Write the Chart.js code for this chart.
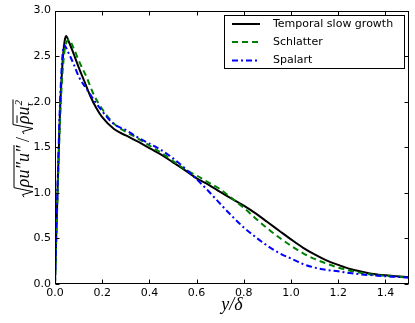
<!DOCTYPE html>
<html>
<head>
<meta charset="utf-8">
<script src="https://cdn.jsdelivr.net/npm/chart.js@4"></script>
<style>
  html, body { margin: 0; padding: 0; background: #fff; }
  canvas { display: block; }
</style>
</head>
<body>
<canvas id="chart" width="415" height="323"></canvas>
<script>
// Temporal slow growth (black solid)
const slowX = [0, 0.005, 0.01, 0.02, 0.03, 0.04, 0.047, 0.06, 0.08, 0.1, 0.125, 0.15, 0.175, 0.2, 0.25, 0.3, 0.35, 0.4, 0.45, 0.5, 0.55, 0.6, 0.65, 0.7, 0.75, 0.8, 0.85, 0.9, 0.95, 1.0, 1.05, 1.1, 1.15, 1.2, 1.25, 1.3, 1.35, 1.4, 1.45, 1.5]
const slowY = [0, 0.5, 0.95, 1.8, 2.35, 2.65, 2.72, 2.65, 2.52, 2.38, 2.22, 2.06, 1.93, 1.83, 1.7, 1.63, 1.565, 1.49, 1.42, 1.335, 1.25, 1.16, 1.09, 1.01, 0.935, 0.86, 0.775, 0.68, 0.585, 0.49, 0.4, 0.325, 0.26, 0.21, 0.165, 0.135, 0.11, 0.095, 0.085, 0.075]
// Schlatter (green dashed)
const schlatterX = [0, 0.005, 0.01, 0.02, 0.03, 0.04, 0.05, 0.059, 0.08, 0.106, 0.134, 0.162, 0.2, 0.25, 0.3, 0.35, 0.4, 0.45, 0.5, 0.55, 0.6, 0.65, 0.7, 0.75, 0.8, 0.85, 0.9, 0.95, 1.0, 1.05, 1.1, 1.15, 1.2, 1.25, 1.3, 1.35, 1.4, 1.45, 1.5]
const schlatterY = [0, 0.45, 0.9, 1.7, 2.25, 2.55, 2.66, 2.68, 2.58, 2.42, 2.27, 2.09, 1.92, 1.76, 1.67, 1.6, 1.52, 1.44, 1.35, 1.26, 1.19, 1.115, 1.04, 0.94, 0.835, 0.72, 0.61, 0.51, 0.42, 0.34, 0.275, 0.225, 0.18, 0.145, 0.12, 0.1, 0.09, 0.08, 0.07]
// Spalart (blue dash-dot)
const spalartX = [0, 0.005, 0.01, 0.02, 0.03, 0.038, 0.06, 0.078, 0.1, 0.134, 0.19, 0.247, 0.3, 0.35, 0.4, 0.45, 0.5, 0.55, 0.6, 0.65, 0.7, 0.75, 0.8, 0.85, 0.9, 0.95, 1.0, 1.05, 1.1, 1.15, 1.2, 1.25, 1.3, 1.35, 1.4, 1.45, 1.5]
const spalartY = [0, 0.55, 1.0, 1.9, 2.45, 2.62, 2.52, 2.42, 2.28, 2.14, 1.93, 1.76, 1.69, 1.61, 1.54, 1.47, 1.38, 1.27, 1.15, 1.02, 0.88, 0.745, 0.62, 0.515, 0.42, 0.34, 0.28, 0.22, 0.18, 0.155, 0.14, 0.12, 0.105, 0.095, 0.085, 0.078, 0.07]

const xTicks = [0, 0.2, 0.4, 0.6, 0.8, 1.0, 1.2, 1.4]
const yTicks = [0, 0.5, 1.0, 1.5, 2.0, 2.5, 3.0]
const seriesNames = ['Temporal slow growth', 'Schlatter', 'Spalart']

function toPoints(xs, ys) {
    return xs.map((x, i) => ({x: x, y: ys[i]}))
}

const tickFont = {family: '"DejaVu Sans"', size: 11}

// frame with inward ticks on all four sides, like matplotlib
const framePlugin = {
    id: 'frame',
    afterDatasetsDraw(chart) {
        const {ctx, chartArea: a, scales} = chart
        ctx.save()
        ctx.strokeStyle = '#000'
        ctx.lineWidth = 1
        const l = Math.round(a.left) + 0.5, r = Math.round(a.right) - 0.5
        const t = Math.round(a.top) + 0.5, b = Math.round(a.bottom) - 0.5
        ctx.strokeRect(l, t, r - l, b - t)
        ctx.beginPath()
        xTicks.forEach(v => {
            const px = Math.round(scales.x.getPixelForValue(v)) + 0.5
            ctx.moveTo(px, b); ctx.lineTo(px, b - 4)
            ctx.moveTo(px, t); ctx.lineTo(px, t + 4)
        })
        yTicks.forEach(v => {
            const py = Math.round(scales.y.getPixelForValue(v)) + 0.5
            ctx.moveTo(l, py); ctx.lineTo(l + 4, py)
            ctx.moveTo(r, py); ctx.lineTo(r - 4, py)
        })
        ctx.stroke()
        ctx.restore()
    },
    afterDraw(chart) {
        const ctx = chart.ctx
        drawLegend(chart, ctx)
        drawXTitle(chart, ctx)
        drawYTitle(chart, ctx)
    }
}

function drawLegend(chart, ctx) {
    ctx.save()
    const bx = 224.5, by = 15.5, bw = 180, bh = 53
    ctx.fillStyle = '#fff'
    ctx.fillRect(bx, by, bw, bh)
    ctx.strokeStyle = '#000'
    ctx.lineWidth = 1
    ctx.strokeRect(bx, by, bw, bh)
    const rows = [24, 42, 60.5]
    chart.data.datasets.forEach((ds, i) => {
        ctx.beginPath()
        ctx.strokeStyle = ds.borderColor
        ctx.lineWidth = ds.borderWidth
        ctx.setLineDash(ds.borderDash || [])
        ctx.moveTo(232, rows[i]); ctx.lineTo(260, rows[i])
        ctx.stroke()
        ctx.setLineDash([])
        ctx.fillStyle = '#000'
        ctx.font = '11px "DejaVu Sans"'
        ctx.textBaseline = 'middle'
        ctx.fillText(ds.label, 273, rows[i])
    })
    ctx.restore()
}

function drawXTitle(chart, ctx) {
    ctx.save()
    ctx.fillStyle = '#000'
    ctx.font = 'italic 18px "Liberation Serif"'
    ctx.textAlign = 'center'
    ctx.textBaseline = 'alphabetic'
    ctx.fillText('y/δ', 232, 310)
    ctx.restore()
}

function radical(ctx, x, w, top) {
    ctx.beginPath()
    ctx.moveTo(x, -5)
    ctx.lineTo(x + 2.5, -6.5)
    ctx.lineTo(x + 5.5, 4)
    ctx.lineTo(x + 9.5, top)
    ctx.lineTo(x + 10.5 + w, top)
    ctx.stroke()
}

function drawYTitle(chart, ctx) {
    ctx.save()
    ctx.translate(29, (chart.chartArea.top + chart.chartArea.bottom) / 2 + 1)
    ctx.rotate(-Math.PI / 2)
    ctx.fillStyle = '#000'
    ctx.strokeStyle = '#000'
    ctx.lineWidth = 1
    ctx.textBaseline = 'alphabetic'
    const big = 'italic 18px "Liberation Serif"'
    const small = 'italic 11px "Liberation Serif"'
    ctx.font = big
    const num = 'ρu″u″'
    const wNum = ctx.measureText(num).width
    const wRho = ctx.measureText('ρ').width
    const wRhoU = ctx.measureText('ρu').width
    ctx.font = '18px "Liberation Serif"'
    const wSlash = ctx.measureText('/').width
    ctx.font = small
    const wSup = ctx.measureText('2').width + 1
    const wDen = wRhoU + wSup
    const total = 10.5 + wNum + 3 + wSlash + 3 + 10.5 + wDen
    let x = -total / 2

    radical(ctx, x, wNum, -15)
    ctx.font = big
    ctx.fillText(num, x + 10, 0)
    x += 10.5 + wNum + 3
    ctx.font = '18px "Liberation Serif"'
    ctx.fillText('/', x, 0)
    x += wSlash + 3

    radical(ctx, x, wDen, -16)
    ctx.font = big
    ctx.fillText('ρu', x + 10, 0)
    // bar over rho
    ctx.beginPath()
    ctx.moveTo(x + 11, -12); ctx.lineTo(x + 10 + wRho, -12)
    ctx.stroke()
    ctx.font = small
    ctx.fillText('2', x + 10 + wRhoU + 1, -7)
    ctx.fillText('τ', x + 10 + wRhoU, 4)
    ctx.restore()
}

new Chart(document.querySelector('#chart'), {
    type: 'line',
    data: {
        datasets: [{
            label: seriesNames[0],
            data: toPoints(slowX, slowY),
            borderColor: '#000000',
            borderWidth: 2,
            order: 2
        }, {
            label: seriesNames[1],
            data: toPoints(schlatterX, schlatterY),
            borderColor: '#008000',
            borderWidth: 2,
            borderDash: [6, 4],
            order: 1
        }, {
            label: seriesNames[2],
            data: toPoints(spalartX, spalartY),
            borderColor: '#0000ff',
            borderWidth: 2,
            borderDash: [6, 3, 2, 3],
            order: 0
        }]
    },
    options: {
        responsive: false,
        animation: false,
        elements: {
            point: {radius: 0},
            line: {cubicInterpolationMode: 'monotone', fill: false}
        },
        layout: {padding: {top: 10, right: 6, left: 0, bottom: 0}},
        plugins: {
            legend: {display: false},
            tooltip: {enabled: false}
        },
        scales: {
            x: {
                type: 'linear',
                min: 0,
                max: 1.5,
                afterBuildTicks: s => { s.ticks = xTicks.map(v => ({value: v})) },
                afterFit: s => { s.height = 39 },
                grid: {display: false, drawTicks: false},
                border: {display: false},
                ticks: {
                    font: tickFont,
                    color: '#000',
                    padding: 3,
                    maxRotation: 0,
                    callback: v => v.toFixed(1)
                }
            },
            y: {
                type: 'linear',
                min: 0,
                max: 3,
                afterBuildTicks: s => { s.ticks = yTicks.map(v => ({value: v})) },
                afterFit: s => { s.width = 55 },
                grid: {display: false, drawTicks: false},
                border: {display: false},
                ticks: {
                    font: tickFont,
                    color: '#000',
                    padding: 4,
                    callback: v => v.toFixed(1)
                }
            }
        }
    },
    plugins: [framePlugin]
})
</script>
</body>
</html>
